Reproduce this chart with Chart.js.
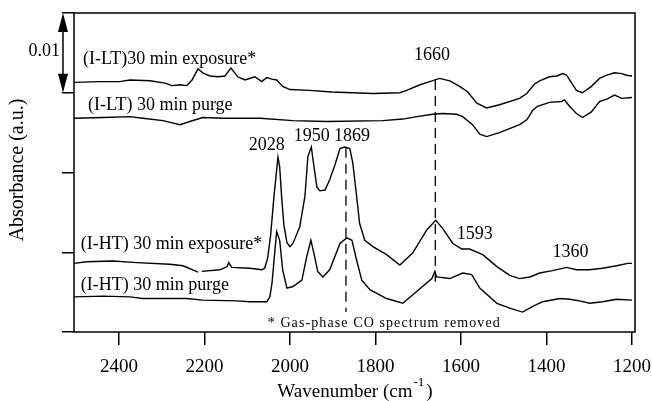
<!DOCTYPE html>
<html>
<head>
<meta charset="utf-8">
<title>IR spectra</title>
<script src="https://cdn.jsdelivr.net/npm/chart.js@4.4.1/dist/chart.umd.min.js"></script>
<style>
  html, body { margin: 0; padding: 0; background: #fff; }
  #wrap { width: 652px; height: 401px; }
</style>
</head>
<body>
<div id="wrap"><canvas id="spectra" width="652" height="401"></canvas></div>
<script>
// axis ticks
const xTicks = [2400, 2200, 2000, 1800, 1600, 1400, 1200];
const yTicks = [0, 0.01, 0.02, 0.03, 0.04];

// (I-LT) 30 min exposure
const ltExposureWn = [2505, 2444, 2398, 2374, 2327, 2292, 2276, 2257, 2241, 2229, 2215, 2204, 2187, 2168, 2152, 2138, 2122, 2105, 2082, 2066, 2054, 2042, 2031, 2017, 2000, 1954, 1902, 1806, 1743, 1727, 1696, 1673, 1650, 1626, 1603, 1584, 1563, 1540, 1510, 1463, 1446, 1428, 1416, 1393, 1376, 1362, 1353, 1341, 1330, 1316, 1295, 1276, 1259, 1241, 1224, 1213, 1200];
const ltExposureAbs = [0.0313, 0.0314, 0.0314, 0.0316, 0.0315, 0.0312, 0.0309, 0.0310, 0.0309, 0.0316, 0.0330, 0.0325, 0.0321, 0.0320, 0.0321, 0.0331, 0.0320, 0.0316, 0.0320, 0.0314, 0.0319, 0.0317, 0.0316, 0.0308, 0.0304, 0.0303, 0.0301, 0.0299, 0.0300, 0.0303, 0.0310, 0.0314, 0.0318, 0.0315, 0.0308, 0.0301, 0.0287, 0.0281, 0.0285, 0.0293, 0.0299, 0.0311, 0.0315, 0.0320, 0.0321, 0.0324, 0.0322, 0.0312, 0.0303, 0.0300, 0.0308, 0.0318, 0.0322, 0.0325, 0.0324, 0.0322, 0.0321];

// (I-LT) 30 min purge
const ltPurgeWn = [2505, 2437, 2374, 2344, 2297, 2257, 2234, 2204, 2157, 2070, 1993, 1914, 1783, 1736, 1703, 1666, 1643, 1610, 1596, 1573, 1556, 1540, 1510, 1463, 1446, 1432, 1421, 1393, 1365, 1358, 1346, 1330, 1316, 1295, 1276, 1259, 1241, 1224, 1200];
const ltPurgeAbs = [0.0268, 0.0269, 0.0270, 0.0268, 0.0265, 0.0260, 0.0264, 0.0269, 0.0268, 0.0268, 0.0265, 0.0264, 0.0265, 0.0267, 0.0270, 0.0273, 0.0274, 0.0273, 0.0270, 0.0260, 0.0248, 0.0245, 0.0250, 0.0260, 0.0266, 0.0278, 0.0283, 0.0288, 0.0289, 0.0291, 0.0283, 0.0274, 0.0269, 0.0276, 0.0289, 0.0292, 0.0297, 0.0293, 0.0294];

// (I-HT) 30 min exposure, gas-phase CO band cut out near 2211
const htExposureWn = [2505, 2475, 2414, 2358, 2281, 2250, 2215, 2211, 2206, 2164, 2147, 2143, 2136, 2094, 2066, 2059, 2052, 2045, 2038, 2033, 2028, 2024, 2019, 2014, 2007, 2000, 1993, 1977, 1965, 1958, 1950, 1946, 1937, 1930, 1918, 1907, 1895, 1883, 1872, 1860, 1853, 1844, 1837, 1825, 1806, 1774, 1743, 1713, 1680, 1659, 1643, 1619, 1598, 1580, 1549, 1516, 1486, 1463, 1439, 1416, 1386, 1353, 1330, 1299, 1269, 1236, 1210, 1200];
const htExposureAbs = [0.0086, 0.0088, 0.0089, 0.0087, 0.0085, 0.0083, 0.0075, null, 0.0076, 0.0078, 0.0082, 0.0087, 0.0081, 0.0080, 0.0078, 0.0080, 0.0093, 0.0122, 0.0166, 0.0193, 0.0219, 0.0207, 0.0166, 0.0134, 0.0112, 0.0107, 0.0111, 0.0132, 0.0170, 0.0220, 0.0232, 0.0216, 0.0182, 0.0177, 0.0178, 0.0191, 0.0209, 0.0230, 0.0232, 0.0230, 0.0212, 0.0170, 0.0136, 0.0115, 0.0107, 0.0097, 0.0084, 0.0099, 0.0128, 0.0140, 0.0130, 0.0111, 0.0104, 0.0104, 0.0097, 0.0082, 0.0071, 0.0067, 0.0069, 0.0074, 0.0077, 0.0081, 0.0078, 0.0078, 0.0080, 0.0083, 0.0086, 0.0086];

// (I-HT) 30 min purge
const htPurgeWn = [2505, 2437, 2374, 2344, 2241, 2204, 2124, 2094, 2054, 2047, 2042, 2035, 2031, 2024, 2017, 2007, 1993, 1972, 1961, 1951, 1944, 1935, 1923, 1907, 1883, 1867, 1855, 1844, 1832, 1813, 1774, 1736, 1703, 1668, 1661, 1657, 1626, 1596, 1575, 1556, 1516, 1486, 1456, 1432, 1409, 1369, 1346, 1323, 1299, 1269, 1236, 1200];
const htPurgeAbs = [0.0044, 0.0045, 0.0044, 0.0042, 0.0042, 0.0040, 0.0039, 0.0038, 0.0038, 0.0044, 0.0061, 0.0103, 0.0126, 0.0115, 0.0078, 0.0055, 0.0057, 0.0065, 0.0094, 0.0115, 0.0099, 0.0076, 0.0069, 0.0078, 0.0111, 0.0118, 0.0115, 0.0090, 0.0065, 0.0053, 0.0042, 0.0036, 0.0051, 0.0067, 0.0076, 0.0069, 0.0067, 0.0074, 0.0072, 0.0055, 0.0036, 0.0030, 0.0025, 0.0032, 0.0038, 0.0042, 0.0041, 0.0039, 0.0036, 0.0038, 0.0041, 0.0040];

// dashed guide lines: [wavenumber, top, bottom]
const guide1869 = [1869, 0.0231, 0.0025];
const guide1660 = [1660, 0.0316, 0.0063];

const serif = '"Liberation Serif", "Times New Roman", serif';

const traceLabels = [
  { text: '(I-LT)30 min exposure*', wn: 2484, abs: 0.0342 },
  { text: '(I-LT) 30 min purge', wn: 2472, abs: 0.0284 },
  { text: '(I-HT) 30 min exposure*', wn: 2489, abs: 0.0110 },
  { text: '(I-HT) 30 min purge', wn: 2489, abs: 0.0059 }
];
const peakLabels = [
  { text: '2028', wn: 2054, abs: 0.0234 },
  { text: '1950', wn: 1949, abs: 0.0246 },
  { text: '1869', wn: 1855, abs: 0.0246 },
  { text: '1660', wn: 1668, abs: 0.0347 },
  { text: '1593', wn: 1568, abs: 0.0122 },
  { text: '1360', wn: 1344, abs: 0.0100 }
];

function toPoints(wn, abs) {
  return wn.map((w, i) => ({ x: w, y: abs[i] }));
}

function trace(wn, abs) {
  return {
    data: toPoints(wn, abs),
    borderColor: '#000',
    borderWidth: 1.4,
    pointRadius: 0,
    tension: 0,
    spanGaps: false
  };
}

function guide(g) {
  return {
    data: [{ x: g[0], y: g[1] }, { x: g[0], y: g[2] }],
    borderColor: '#000',
    borderWidth: 1.3,
    borderDash: [10, 6],
    pointRadius: 0
  };
}

// frame, scale bar and all the text
const decorations = {
  id: 'decorations',
  afterDraw(chart) {
    const ctx = chart.ctx;
    const a = chart.chartArea;
    const xs = chart.scales.x;
    const ys = chart.scales.y;
    ctx.save();
    ctx.strokeStyle = '#000';
    ctx.fillStyle = '#000';
    ctx.lineWidth = 1.5;
    ctx.strokeRect(a.left, a.top, a.right - a.left, a.bottom - a.top);

    // 0.01 absorbance scale bar
    const bx = a.left - 11;
    const bTop = ys.getPixelForValue(0.04);
    const bBot = ys.getPixelForValue(0.03);
    ctx.beginPath();
    ctx.moveTo(bx, bTop + 10);
    ctx.lineTo(bx, bBot - 10);
    ctx.stroke();
    ctx.beginPath();
    ctx.moveTo(bx, bTop);
    ctx.lineTo(bx - 5, bTop + 19);
    ctx.lineTo(bx + 5, bTop + 19);
    ctx.closePath();
    ctx.fill();
    ctx.beginPath();
    ctx.moveTo(bx, bBot);
    ctx.lineTo(bx - 5, bBot - 19);
    ctx.lineTo(bx + 5, bBot - 19);
    ctx.closePath();
    ctx.fill();
    ctx.font = '18px ' + serif;
    ctx.textAlign = 'right';
    ctx.textBaseline = 'middle';
    ctx.fillText('0.01', bx - 3, ys.getPixelForValue(0.0352));

    ctx.textAlign = 'left';
    traceLabels.forEach(l => {
      ctx.fillText(l.text, xs.getPixelForValue(l.wn), ys.getPixelForValue(l.abs));
    });
    ctx.textAlign = 'center';
    peakLabels.forEach(l => {
      ctx.fillText(l.text, xs.getPixelForValue(l.wn), ys.getPixelForValue(l.abs));
    });

    ctx.font = '14px ' + serif;
    ctx.textAlign = 'left';
    ctx.letterSpacing = '1.1px';
    ctx.fillText('* Gas-phase CO spectrum removed', xs.getPixelForValue(2052), ys.getPixelForValue(0.0011));
    ctx.letterSpacing = '0px';

    // axis titles
    ctx.font = '19px ' + serif;
    ctx.textAlign = 'left';
    const main = 'Wavenumber (cm';
    const mw = ctx.measureText(main).width;
    ctx.font = '13px ' + serif;
    const sw = ctx.measureText('-1').width;
    ctx.font = '19px ' + serif;
    const cw = ctx.measureText(')').width;
    const tx = 355 - (mw + sw + 3 + cw) / 2;
    const ty = 392;
    ctx.fillText(main, tx, ty);
    ctx.font = '13px ' + serif;
    ctx.fillText('-1', tx + mw + 1, ty - 9);
    ctx.font = '19px ' + serif;
    ctx.fillText(')', tx + mw + sw + 3, ty);

    ctx.translate(18, 170);
    ctx.rotate(-Math.PI / 2);
    ctx.textAlign = 'center';
    ctx.font = '20px ' + serif;
    ctx.fillText('Absorbance (a.u.)', 0, 0);
    ctx.restore();
  }
};

new Chart(document.getElementById('spectra'), {
  type: 'line',
  data: {
    datasets: [
      trace(ltExposureWn, ltExposureAbs),
      trace(ltPurgeWn, ltPurgeAbs),
      trace(htExposureWn, htExposureAbs),
      trace(htPurgeWn, htPurgeAbs),
      guide(guide1869),
      guide(guide1660)
    ]
  },
  options: {
    responsive: false,
    animation: false,
    layout: { padding: { top: 13, right: 17, left: 0, bottom: 0 } },
    plugins: { legend: { display: false }, tooltip: { enabled: false } },
    scales: {
      x: {
        type: 'linear',
        reverse: true,
        min: 1193,
        max: 2505,
        afterBuildTicks: s => { s.ticks = xTicks.map(v => ({ value: v })); },
        afterFit: s => {
          s.height = 69;
          s.paddingLeft = 0;
          s.paddingRight = 0;
        },
        border: { display: false },
        grid: { drawOnChartArea: false, drawTicks: true, tickLength: 13, color: '#000', lineWidth: 1.5 },
        ticks: {
          color: '#000',
          font: { family: serif, size: 19 },
          padding: 11,
          maxRotation: 0,
          autoSkip: false,
          callback: v => String(v)
        }
      },
      y: {
        min: 0,
        max: 0.04,
        afterBuildTicks: s => { s.ticks = yTicks.map(v => ({ value: v })); },
        afterFit: s => {
          s.width = 74;
          s.paddingTop = 0;
          s.paddingBottom = 0;
        },
        border: { display: false },
        grid: { drawOnChartArea: false, drawTicks: true, tickLength: 12, color: '#000', lineWidth: 1.5 },
        ticks: { display: false }
      }
    }
  },
  plugins: [decorations]
});
</script>
</body>
</html>
